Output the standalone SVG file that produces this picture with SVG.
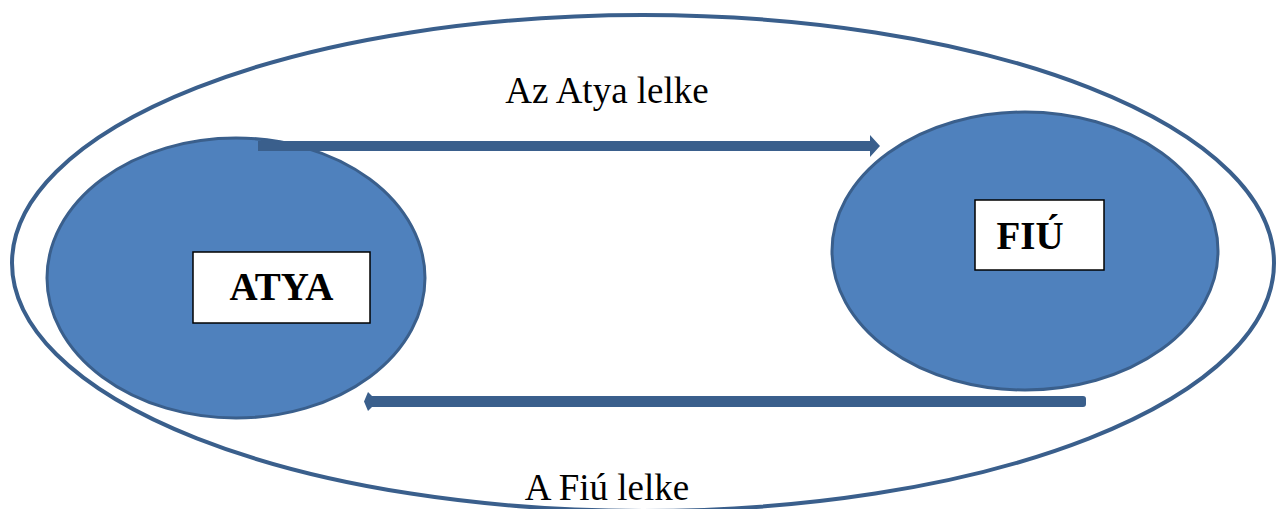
<svg xmlns="http://www.w3.org/2000/svg" width="1279" height="509" viewBox="0 0 1279 509">
<style>
.blob{fill:#4f81bd;stroke:#3a5f8c;stroke-width:3}
.box{fill:#fff;stroke:#000;stroke-width:1.5}
.lbl{font-family:"Liberation Serif","Times New Roman",serif;font-size:37px;fill:#000}
.b{font-weight:bold;font-size:39px}
.arr{fill:#3a5f8c}
</style>
<rect width="1279" height="509" fill="#fff"/>
<g id="outer">
<ellipse cx="643" cy="263" rx="631" ry="248" fill="none" stroke="#3a5f8c" stroke-width="4"/>
</g>
<g id="atya">
<ellipse class="blob" cx="236" cy="278" rx="189" ry="140"/>
<rect class="box" x="193" y="252" width="177" height="71"/>
<text class="lbl b" x="281.5" y="300" text-anchor="middle">ATYA</text>
</g>
<g id="fiu">
<ellipse class="blob" cx="1025" cy="251" rx="193" ry="139"/>
<rect class="box" x="975" y="200" width="129" height="70"/>
<text class="lbl b" x="1030" y="249" text-anchor="middle">FIÚ</text>
</g>
<g id="connectors">
<path class="arr" d="M258 141 H870 V135 L880 146 L870 157 V151 H258 Z"/>
<path class="arr" d="M1083 396 Q1086 396 1086 399 V404 Q1086 407 1083 407 H372 L368 411 L364 401.5 L368 392 L372 396 Z"/>
</g>
<g id="labels">
<text class="lbl" x="607" y="103" text-anchor="middle">Az Atya lelke</text>
<text class="lbl" x="607" y="500" text-anchor="middle">A Fiú lelke</text>
</g>
</svg>
